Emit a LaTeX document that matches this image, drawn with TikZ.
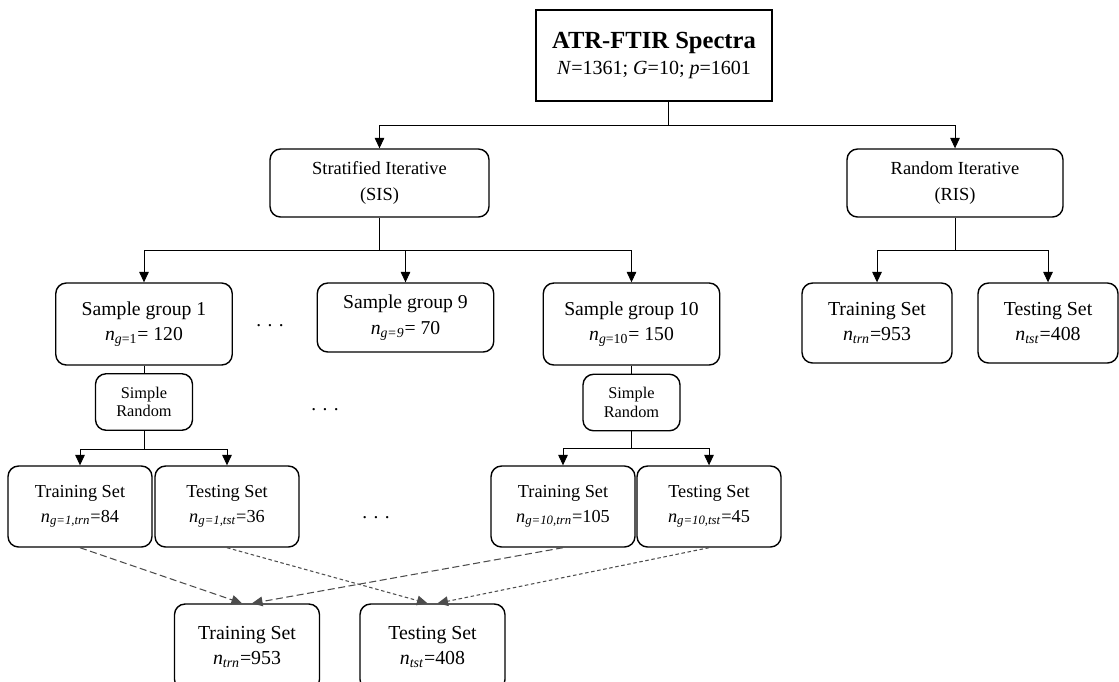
\documentclass[tikz,border=0pt]{standalone}
\usepackage{fontspec}
\setmainfont{Liberation Serif}
\usetikzlibrary{arrows.meta,positioning,calc}
\newcommand{\nsub}[1]{\textit{n}\textsubscript{#1}}

\begin{document}
\begin{tikzpicture}[x=0.02cm,y=-0.02cm,>={Triangle[length=6pt,width=5.5pt]}, every node/.style={font=\fontsize{11}{14}\selectfont}]
    % Styles
    \tikzset{topbox/.style  ={draw,line width=1.1pt,align=center,inner sep=0pt,minimum width=4.72cm,minimum height=1.82cm}}
    \tikzset{stepbox/.style ={draw,line width=0.8pt,rounded corners=6pt,align=center,inner sep=0pt}}
    \tikzset{groupbox/.style={stepbox,minimum width=3.53cm,font=\fontsize{11.2}{14.5}\selectfont}}
    \tikzset{setbox/.style  ={stepbox,minimum width=2.88cm,minimum height=1.62cm,font=\fontsize{10.4}{14}\selectfont}}
    \tikzset{finalbox/.style={stepbox,minimum width=2.9cm,font=\fontsize{11.3}{14.5}\selectfont}}
    \tikzset{srbox/.style   ={stepbox,minimum width=1.94cm,minimum height=1.13cm,font=\fontsize{9.3}{10.5}\selectfont}}
    \tikzset{link/.style    ={line width=0.5pt}}
    \tikzset{trnflow/.style ={->,line width=0.6pt,black!70,dash pattern=on 4pt off 2pt}}
    \tikzset{tstflow/.style ={->,line width=0.6pt,black!70,dash pattern=on 2pt off 1.5pt}}

    \useasboundingbox (0,0) rectangle (1119,681);
    \clip (0,0) rectangle (1119,681);

    % Top
    \node[topbox] (spectra) at (654,55.5) {{\fontsize{14}{16}\selectfont\bfseries ATR-FTIR Spectra}\\[1pt]
      \fontsize{11.4}{14}\selectfont\textit{N}=1361; \textit{G}=10; \textit{p}=1601};

    % Splitting schemes
    \node[stepbox,minimum width=4.38cm,minimum height=1.36cm,font=\fontsize{10.5}{14.5}\selectfont] (sis) at (379.5,183) {Stratified Iterative\\(SIS)};
    \node[stepbox,minimum width=4.32cm,minimum height=1.36cm,font=\fontsize{10.5}{14.5}\selectfont] (ris) at (955,183) {Random Iterative\\(RIS)};

    % Sample groups
    \node[groupbox,minimum height=1.64cm] (grpA) at (144,324)   {Sample group 1\\\nsub{\textit{g}=1}= 120};
    \node[groupbox,minimum height=1.38cm] (grpI) at (405.5,317.5) {Sample group 9\\\nsub{\textit{g=9}}= 70};
    \node[groupbox,minimum height=1.64cm] (grpJ) at (631.5,324) {Sample group 10\\\nsub{\textit{g}=10}= 150};
    \node (gapA) at (270,326) {. . .};
    \node (gapB) at (325,410) {. . .};
    \node (gapC) at (376,518) {. . .};

    % Simple random draws
    \node[srbox] (srA) at (144,402) {Simple\\Random};
    \node[srbox] (srJ) at (631.5,402.5) {Simple\\Random};

    % Per-group sets
    \node[setbox] (trnA) at (80,506.5)  {Training Set\\\nsub{\textit{g=1,trn}}=84};
    \node[setbox] (tstA) at (227,506.5) {Testing Set\\\nsub{\textit{g=1,tst}}=36};
    \node[setbox] (trnJ) at (563,506.5) {Training Set\\\nsub{\textit{g=10,trn}}=105};
    \node[setbox] (tstJ) at (709,506.5) {Testing Set\\\nsub{\textit{g=10,tst}}=45};

    % RIS sets
    \node[finalbox,minimum width=3.0cm,minimum height=1.6cm] (trnR) at (877,323)  {Training Set\\\nsub{\textit{trn}}=953};
    \node[finalbox,minimum width=2.8cm,minimum height=1.6cm] (tstR) at (1048,323) {Testing Set\\\nsub{\textit{tst}}=408};

    % Pooled sets
    \node[finalbox,minimum height=1.72cm] (trnP) at (247,647)   {Training Set\\\nsub{\textit{trn}}=953};
    \node[finalbox,minimum height=1.72cm] (tstP) at (432.5,647) {Testing Set\\\nsub{\textit{tst}}=408};

    % Tree connectors
    \coordinate (splitT) at (668,125);
    \draw[link] (spectra.south -| splitT) -- (splitT);
    \draw[link,->] (splitT) -| (sis.north);
    \draw[link,->] (splitT) -| (ris.north);

    \coordinate (splitS) at ($(sis.south)+(0,33)$);
    \draw[link] (sis) -- (splitS);
    \draw[link,->] (splitS) -| (grpA.north);
    \draw[link,->] (splitS) -| (grpI.north);
    \draw[link,->] (splitS) -| (grpJ.north);

    \coordinate (splitR) at ($(ris.south)+(0,33)$);
    \draw[link] (ris) -- (splitR);
    \draw[link,->] (splitR) -| (trnR.north);
    \draw[link,->] (splitR) -| (tstR.north);

    \draw[link] (grpA) -- (srA);
    \draw[link] (grpJ) -- (srJ);

    \coordinate (splitA) at ($(srA.south)+(0,18)$);
    \draw[link] (srA) -- (splitA);
    \draw[link,->] (splitA) -| (trnA.north);
    \draw[link,->] (splitA) -| (tstA.north);

    \coordinate (splitJ) at ($(srJ.south)+(0,17)$);
    \draw[link] (srJ) -- (splitJ);
    \draw[link,->] (splitJ) -| (trnJ.north);
    \draw[link,->] (splitJ) -| (tstJ.north);

    % Pooling
    \draw[trnflow] (trnA.south) -- ($(trnP.north)+(-5,0)$);
    \draw[trnflow] (trnJ.south) -- ($(trnP.north)+(5,0)$);
    \draw[tstflow] (tstA.south) -- ($(tstP.north)+(-5,0)$);
    \draw[tstflow] (tstJ.south) -- ($(tstP.north)+(5,0)$);
\end{tikzpicture}
\end{document}
